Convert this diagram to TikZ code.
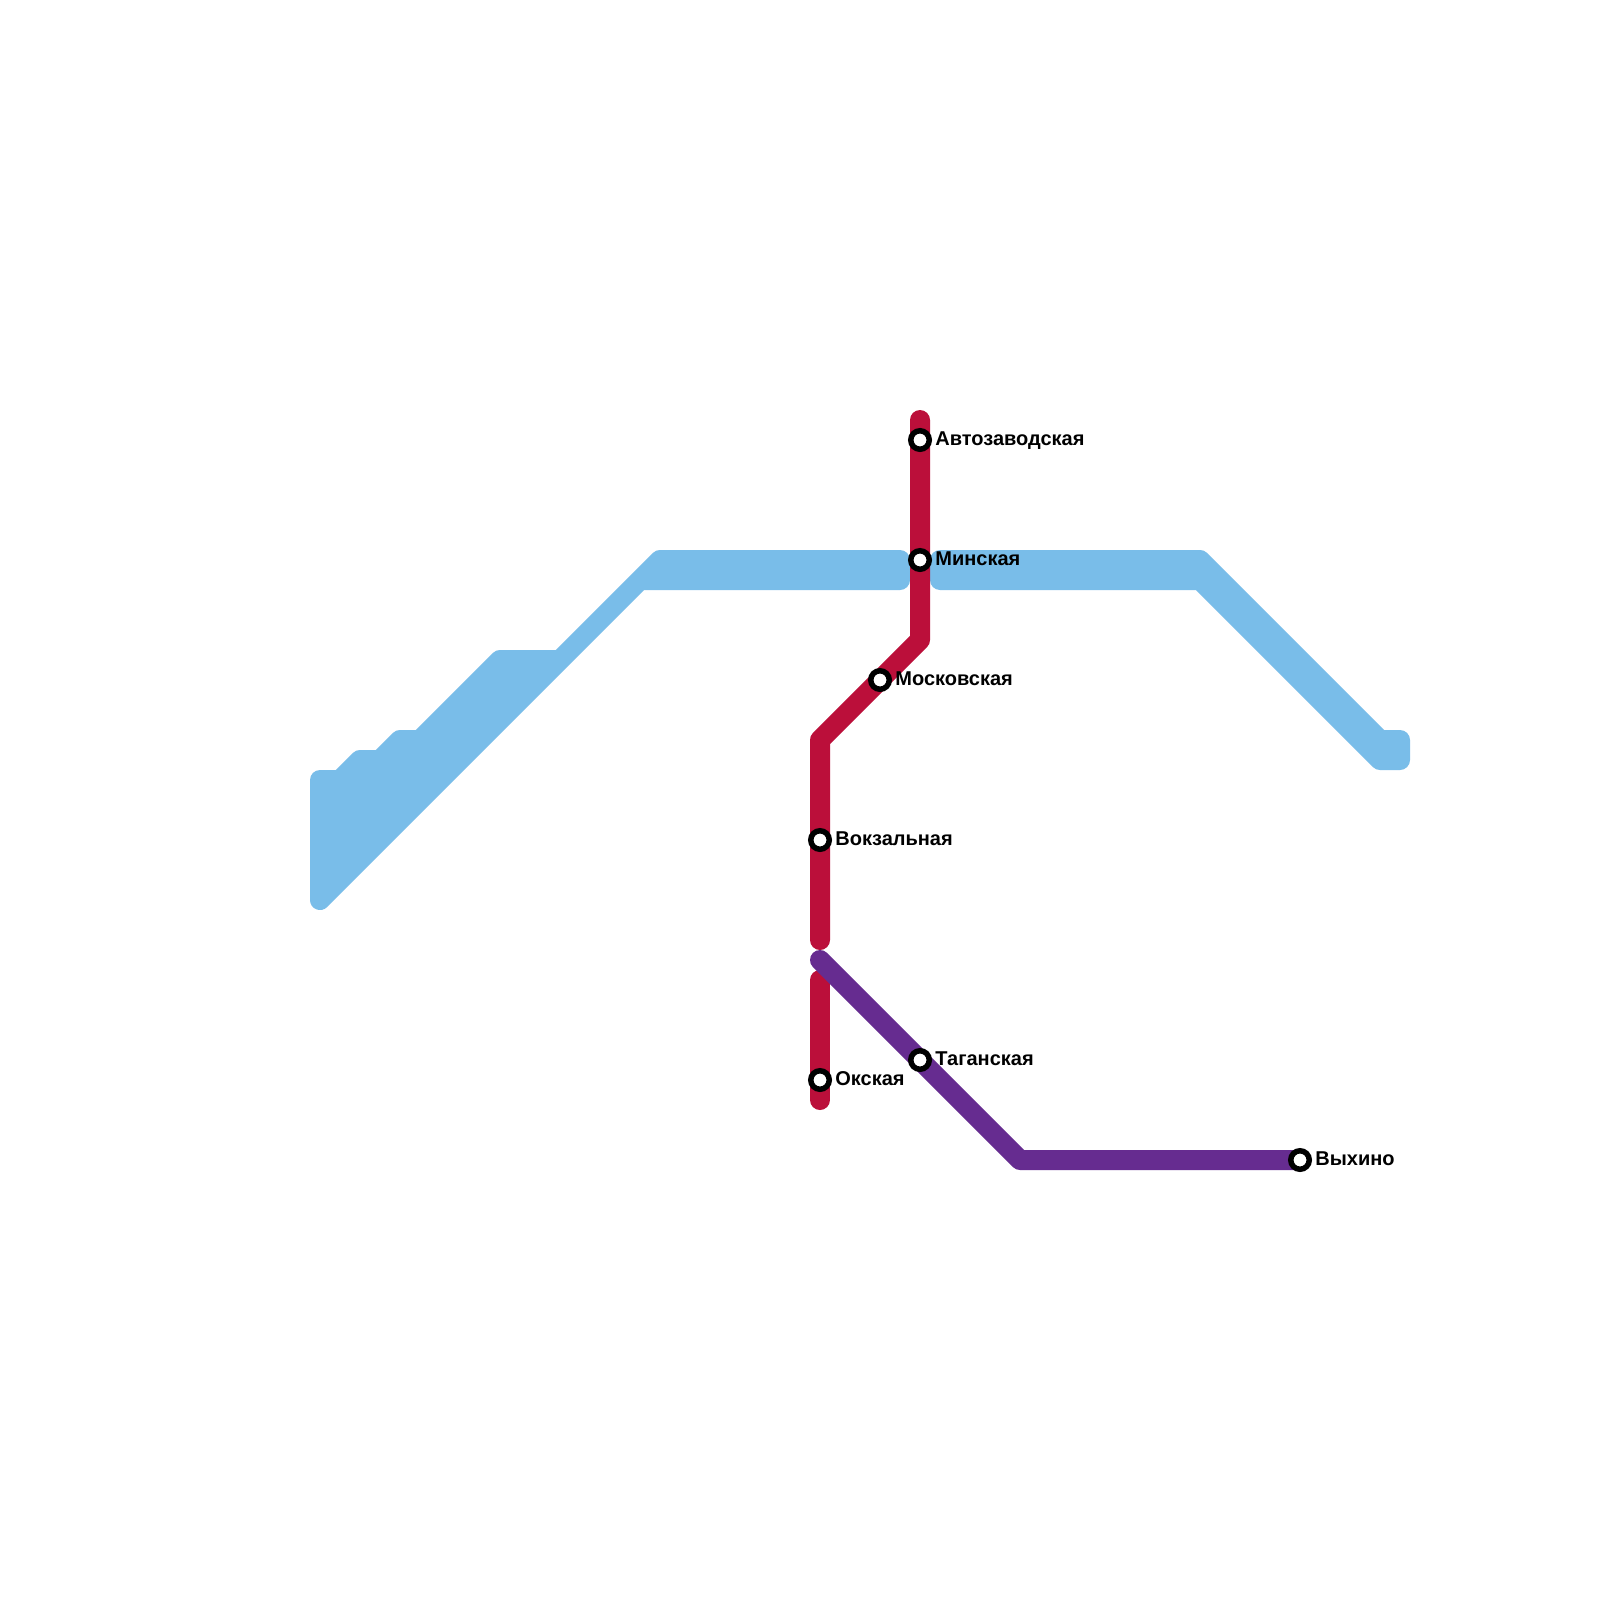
\documentclass[tikz,border=0pt]{standalone}
\usepackage{fontspec}
\usetikzlibrary{backgrounds}
\setmainfont{Liberation Sans}
\definecolor{bluel}{HTML}{79BDE9}
\definecolor{redl}{HTML}{BB0F3A}
\definecolor{purpl}{HTML}{662C90}
\tikzset{
  bluearea/.style={draw=bluel,fill=bluel,line width=10pt,line join=round},
  redline/.style={draw=redl,line width=10pt,line cap=round,line join=round},
  purpline/.style={draw=purpl,line width=10pt,line cap=round,line join=round},
  station/.style={circle,draw=black,fill=white,line width=2.75pt,minimum size=9.25pt,inner sep=0pt,outer sep=0pt},
  stlabel/.style={font=\bfseries\fontsize{10}{10}\selectfont,anchor=base west,inner sep=0pt,text=black},
}
\begin{document}
\begin{tikzpicture}[x=0.5pt,y=-0.5pt]
\useasboundingbox (0,0) rectangle (1600,1600);
\coordinate (rtop) at (920,420);
\coordinate (rbend) at (920,640);
\coordinate (rbend2) at (820,740);
\coordinate (rend) at (820,940);
\coordinate (r2top) at (820,980);
\coordinate (r2end) at (820,1100);
\coordinate (pstart) at (820,960);
\coordinate (pbend) at (1020,1160);
\node[station] (avto) at (920,440) {};
\node[station] (minsk) at (920,560) {};
\node[station] (mosk) at (880,680) {};
\node[station] (vokz) at (820,840) {};
\node[station] (oksk) at (820,1080) {};
\node[station] (tagan) at (920,1060) {};
\node[station] (vykh) at (1300,1160) {};
\begin{pgfonlayer}{background}
\fill[white] (0,0) rectangle (1600,1600);
\draw[bluearea] (320,780) -- (340,780) -- (360,760) -- (380,760) -- (400,740) -- (420,740) -- (500,660) -- (560,660) -- (660,560) -- (900,560) -- (900,580) -- (640,580) -- (320,900) -- cycle;
\draw[bluearea] (940,560) -- (1200,560) -- (1380,740) -- (1400,740) -- (1400,760) -- (1380,760) -- (1200,580) -- (940,580) -- cycle;
\draw[redline] (rtop) -- (rbend) -- (rbend2) -- (rend);
\draw[redline] (r2top) -- (r2end);
\draw[purpline] (pstart) -- (pbend) -- (vykh.center);
\end{pgfonlayer}
\node[stlabel] (lavto) at (935,445.5) {Автозаводская};
\node[stlabel] (lminsk) at (935,565.5) {Минская};
\node[stlabel] (lmosk) at (895,685.5) {Московская};
\node[stlabel] (lvokz) at (835,845.5) {Вокзальная};
\node[stlabel] (loksk) at (835,1085.5) {Окская};
\node[stlabel] (ltagan) at (935,1065.5) {Таганская};
\node[stlabel] (lvykh) at (1315,1165.5) {Выхино};
\end{tikzpicture}
\end{document}
